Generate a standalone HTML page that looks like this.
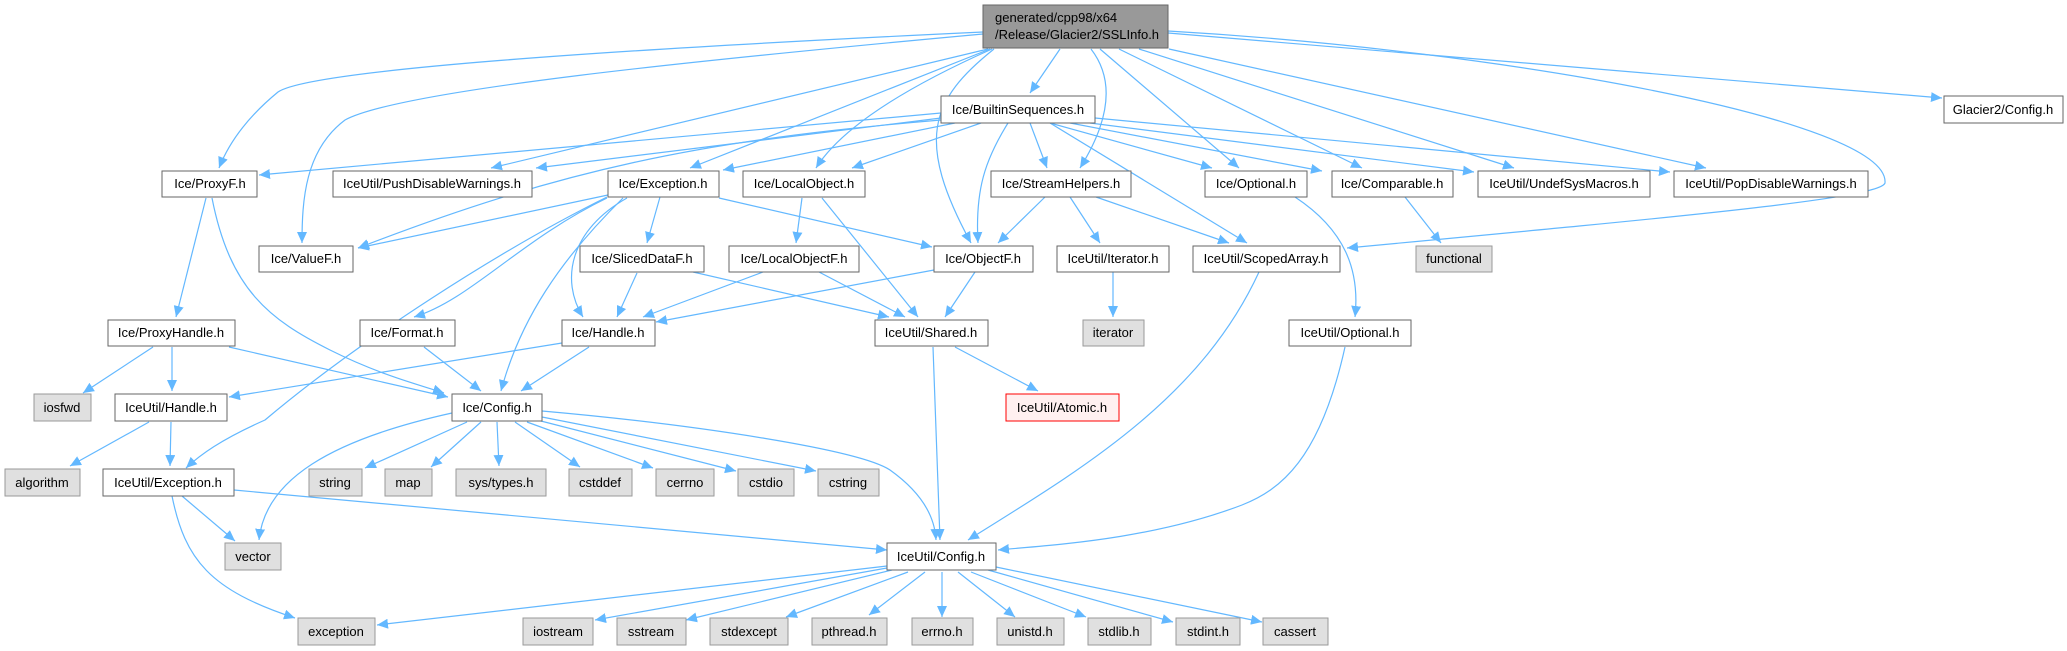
<!DOCTYPE html>
<html><head><meta charset="utf-8"><style>
html,body{margin:0;padding:0;background:#fff;}
svg{display:block;}
text{font-family:"Liberation Sans",Arial,sans-serif;font-size:13px;fill:#000;}
.e{fill:none;stroke:#63b8ff;stroke-width:1.2;marker-end:url(#a);}
.n{fill:#fff;stroke:#666;stroke-width:1;}
.g{fill:#e0e0e0;stroke:#999;stroke-width:1;}
</style></head><body>
<svg width="2067" height="651" viewBox="0 0 2067 651" xmlns="http://www.w3.org/2000/svg">
<defs><marker id="a" markerUnits="userSpaceOnUse" markerWidth="12" markerHeight="10" refX="11" refY="5" orient="auto"><path d="M0,0 L11,5 L0,10 z" fill="#63b8ff"/></marker></defs>
<g>
<!-- SSL edges -->
<path class="e" d="M983,32 C600,50 310,70 278,92 C250,115 230,140 219,168"/>
<path class="e" d="M983,34 C700,60 400,90 345,120 C305,150 302,200 302,243"/>
<path class="e" d="M988,49 L491,168"/>
<path class="e" d="M990,49 L690,168"/>
<path class="e" d="M992,49 C900,90 840,130 816,168"/>
<path class="e" d="M994,49 C930,100 915,140 971,243"/>
<path class="e" d="M1060,49 L1030,93"/>
<path class="e" d="M1091,49 C1115,80 1110,120 1080,168"/>
<path class="e" d="M1100,49 L1239,168"/>
<path class="e" d="M1119,49 L1362,168"/>
<path class="e" d="M1139,49 L1514,168"/>
<path class="e" d="M1169,49 L1706,168"/>
<path class="e" d="M1168,33 L1942,98"/>
<path class="e" d="M1168,31 C1500,50 1890,120 1885,183 C1880,198 1700,215 1347,248"/>
<!-- Builtin edges -->
<path class="e" d="M941,113 L259,175"/>
<path class="e" d="M941,118 L536,168"/>
<path class="e" d="M941,120 C700,140 560,170 358,248"/>
<path class="e" d="M955,123 L723,170"/>
<path class="e" d="M981,123 L852,168"/>
<path class="e" d="M1008,123 C985,160 975,190 978,243"/>
<path class="e" d="M1030,123 L1047,168"/>
<path class="e" d="M1050,123 L1212,168"/>
<path class="e" d="M1070,123 L1322,171"/>
<path class="e" d="M1090,123 L1474,172"/>
<path class="e" d="M1095,118 L1670,172"/>
<path class="e" d="M1050,123 L1247,243"/>
<!-- row 2 -->
<path class="e" d="M206,198 L176,317"/>
<path class="e" d="M212,198 C230,290 270,320 330,350 C380,375 420,385 444,393"/>
<path class="e" d="M608,195 L358,248"/>
<path class="e" d="M607,197 C500,250 360,340 265,420 C220,440 200,455 186,468"/>
<path class="e" d="M607,198 C520,240 470,300 414,317"/>
<path class="e" d="M623,198 C560,260 520,320 501,391"/>
<path class="e" d="M627,198 C570,230 560,280 583,317"/>
<path class="e" d="M660,197 L647,243"/>
<path class="e" d="M719,198 L932,247"/>
<path class="e" d="M802,198 L796,243"/>
<path class="e" d="M822,198 L918,317"/>
<path class="e" d="M1045,197 L998,243"/>
<path class="e" d="M1070,197 L1100,243"/>
<path class="e" d="M1096,197 L1229,243"/>
<path class="e" d="M1295,197 C1345,230 1360,270 1355,317"/>
<path class="e" d="M1405,197 L1441,243"/>
<!-- row 3 -->
<path class="e" d="M637,273 L617,317"/>
<path class="e" d="M693,272 L889,317"/>
<path class="e" d="M763,272 L643,317"/>
<path class="e" d="M819,272 L905,317"/>
<path class="e" d="M934,270 L656,322"/>
<path class="e" d="M975,272 L945,317"/>
<path class="e" d="M1113,272 L1113,317"/>
<path class="e" d="M1259,272 C1200,400 1080,470 968,540"/>
<!-- row 4 -->
<path class="e" d="M153,347 L83,393"/>
<path class="e" d="M172,347 L172,391"/>
<path class="e" d="M229,347 L448,397"/>
<path class="e" d="M424,347 L481,391"/>
<path class="e" d="M562,343 L229,397"/>
<path class="e" d="M589,347 L521,391"/>
<path class="e" d="M933,347 L940,540"/>
<path class="e" d="M955,347 L1038,391"/>
<path class="e" d="M1345,347 C1320,460 1280,490 1242,505 C1150,540 1050,545 998,550"/>
<!-- row 5 -->
<path class="e" d="M149,422 L70,466"/>
<path class="e" d="M171,422 L170,466"/>
<path class="e" d="M452,413 C330,440 265,480 259,540"/>
<path class="e" d="M467,422 L365,468"/>
<path class="e" d="M481,422 L431,467"/>
<path class="e" d="M497,422 L499,466"/>
<path class="e" d="M515,422 L580,467"/>
<path class="e" d="M527,422 L653,468"/>
<path class="e" d="M537,420 L736,471"/>
<path class="e" d="M542,417 L816,471"/>
<path class="e" d="M542,411 C700,425 860,450 890,470 C925,495 935,520 936,540"/>
<!-- row 6 -->
<path class="e" d="M182,496 L235,541"/>
<path class="e" d="M172,496 C185,560 210,590 295,618"/>
<path class="e" d="M234,490 L887,550"/>
<path class="e" d="M887,566 L377,625"/>
<path class="e" d="M887,568 L595,620"/>
<path class="e" d="M892,570 L686,620"/>
<path class="e" d="M908,572 L786,617"/>
<path class="e" d="M925,572 L869,615"/>
<path class="e" d="M942,572 L942,617"/>
<path class="e" d="M958,572 L1015,617"/>
<path class="e" d="M971,572 L1086,617"/>
<path class="e" d="M988,570 L1173,622"/>
<path class="e" d="M996,567 L1262,622"/>
</g>
<g>
<rect x="983" y="5" width="185" height="43" fill="#999" stroke="#666"/>
<text x="995" y="22">generated/cpp98/x64</text><text x="995" y="39">/Release/Glacier2/SSLInfo.h</text>

<rect class="n" x="941" y="96" width="154" height="27"/><text x="1018" y="114" text-anchor="middle">Ice/BuiltinSequences.h</text>
<rect class="n" x="1944" y="96" width="119" height="27"/><text x="2003" y="114" text-anchor="middle">Glacier2/Config.h</text>

<rect class="n" x="162" y="171" width="95" height="26"/><text x="210" y="188" text-anchor="middle">Ice/ProxyF.h</text>
<rect class="n" x="333" y="171" width="199" height="26"/><text x="432" y="188" text-anchor="middle">IceUtil/PushDisableWarnings.h</text>
<rect class="n" x="608" y="171" width="111" height="26"/><text x="663" y="188" text-anchor="middle">Ice/Exception.h</text>
<rect class="n" x="743" y="171" width="122" height="26"/><text x="804" y="188" text-anchor="middle">Ice/LocalObject.h</text>
<rect class="n" x="991" y="171" width="140" height="26"/><text x="1061" y="188" text-anchor="middle">Ice/StreamHelpers.h</text>
<rect class="n" x="1205" y="171" width="102" height="26"/><text x="1256" y="188" text-anchor="middle">Ice/Optional.h</text>
<rect class="n" x="1332" y="171" width="121" height="26"/><text x="1392" y="188" text-anchor="middle">Ice/Comparable.h</text>
<rect class="n" x="1478" y="171" width="172" height="26"/><text x="1564" y="188" text-anchor="middle">IceUtil/UndefSysMacros.h</text>
<rect class="n" x="1674" y="171" width="194" height="26"/><text x="1771" y="188" text-anchor="middle">IceUtil/PopDisableWarnings.h</text>

<rect class="n" x="259" y="246" width="94" height="26"/><text x="306" y="263" text-anchor="middle">Ice/ValueF.h</text>
<rect class="n" x="580" y="246" width="124" height="26"/><text x="642" y="263" text-anchor="middle">Ice/SlicedDataF.h</text>
<rect class="n" x="729" y="246" width="130" height="26"/><text x="794" y="263" text-anchor="middle">Ice/LocalObjectF.h</text>
<rect class="n" x="934" y="246" width="99" height="26"/><text x="983" y="263" text-anchor="middle">Ice/ObjectF.h</text>
<rect class="n" x="1057" y="246" width="112" height="26"/><text x="1113" y="263" text-anchor="middle">IceUtil/Iterator.h</text>
<rect class="n" x="1193" y="246" width="147" height="26"/><text x="1266" y="263" text-anchor="middle">IceUtil/ScopedArray.h</text>
<rect class="g" x="1416" y="246" width="76" height="26"/><text x="1454" y="263" text-anchor="middle">functional</text>

<rect class="n" x="108" y="320" width="127" height="26"/><text x="171" y="337" text-anchor="middle">Ice/ProxyHandle.h</text>
<rect class="n" x="360" y="320" width="95" height="26"/><text x="407" y="337" text-anchor="middle">Ice/Format.h</text>
<rect class="n" x="562" y="320" width="93" height="26"/><text x="608" y="337" text-anchor="middle">Ice/Handle.h</text>
<rect class="n" x="875" y="320" width="113" height="26"/><text x="931" y="337" text-anchor="middle">IceUtil/Shared.h</text>
<rect class="g" x="1083" y="320" width="61" height="26"/><text x="1113" y="337" text-anchor="middle">iterator</text>
<rect class="n" x="1289" y="320" width="122" height="26"/><text x="1350" y="337" text-anchor="middle">IceUtil/Optional.h</text>

<rect class="g" x="34" y="394" width="57" height="27"/><text x="62" y="412" text-anchor="middle">iosfwd</text>
<rect class="n" x="115" y="394" width="112" height="27"/><text x="171" y="412" text-anchor="middle">IceUtil/Handle.h</text>
<rect class="n" x="452" y="394" width="90" height="27"/><text x="497" y="412" text-anchor="middle">Ice/Config.h</text>
<rect x="1006" y="394" width="113" height="27" fill="#fff0f0" stroke="#f00"/><text x="1062" y="412" text-anchor="middle">IceUtil/Atomic.h</text>

<rect class="g" x="5" y="469" width="75" height="27"/><text x="42" y="487" text-anchor="middle">algorithm</text>
<rect class="n" x="103" y="469" width="131" height="27"/><text x="168" y="487" text-anchor="middle">IceUtil/Exception.h</text>
<rect class="g" x="309" y="469" width="53" height="27"/><text x="335" y="487" text-anchor="middle">string</text>
<rect class="g" x="385" y="469" width="47" height="27"/><text x="408" y="487" text-anchor="middle">map</text>
<rect class="g" x="456" y="469" width="90" height="27"/><text x="501" y="487" text-anchor="middle">sys/types.h</text>
<rect class="g" x="569" y="469" width="63" height="27"/><text x="600" y="487" text-anchor="middle">cstddef</text>
<rect class="g" x="656" y="469" width="58" height="27"/><text x="685" y="487" text-anchor="middle">cerrno</text>
<rect class="g" x="738" y="469" width="56" height="27"/><text x="766" y="487" text-anchor="middle">cstdio</text>
<rect class="g" x="818" y="469" width="61" height="27"/><text x="848" y="487" text-anchor="middle">cstring</text>

<rect class="g" x="225" y="543" width="56" height="27"/><text x="253" y="561" text-anchor="middle">vector</text>
<rect class="n" x="887" y="543" width="109" height="27"/><text x="941" y="561" text-anchor="middle">IceUtil/Config.h</text>

<rect class="g" x="298" y="618" width="77" height="27"/><text x="336" y="636" text-anchor="middle">exception</text>
<rect class="g" x="523" y="618" width="70" height="27"/><text x="558" y="636" text-anchor="middle">iostream</text>
<rect class="g" x="617" y="618" width="69" height="27"/><text x="651" y="636" text-anchor="middle">sstream</text>
<rect class="g" x="710" y="618" width="78" height="27"/><text x="749" y="636" text-anchor="middle">stdexcept</text>
<rect class="g" x="812" y="618" width="75" height="27"/><text x="849" y="636" text-anchor="middle">pthread.h</text>
<rect class="g" x="912" y="618" width="61" height="27"/><text x="942" y="636" text-anchor="middle">errno.h</text>
<rect class="g" x="997" y="618" width="67" height="27"/><text x="1030" y="636" text-anchor="middle">unistd.h</text>
<rect class="g" x="1088" y="618" width="63" height="27"/><text x="1119" y="636" text-anchor="middle">stdlib.h</text>
<rect class="g" x="1176" y="618" width="64" height="27"/><text x="1208" y="636" text-anchor="middle">stdint.h</text>
<rect class="g" x="1263" y="618" width="65" height="27"/><text x="1295" y="636" text-anchor="middle">cassert</text>
</g>
</svg>
</body></html>
